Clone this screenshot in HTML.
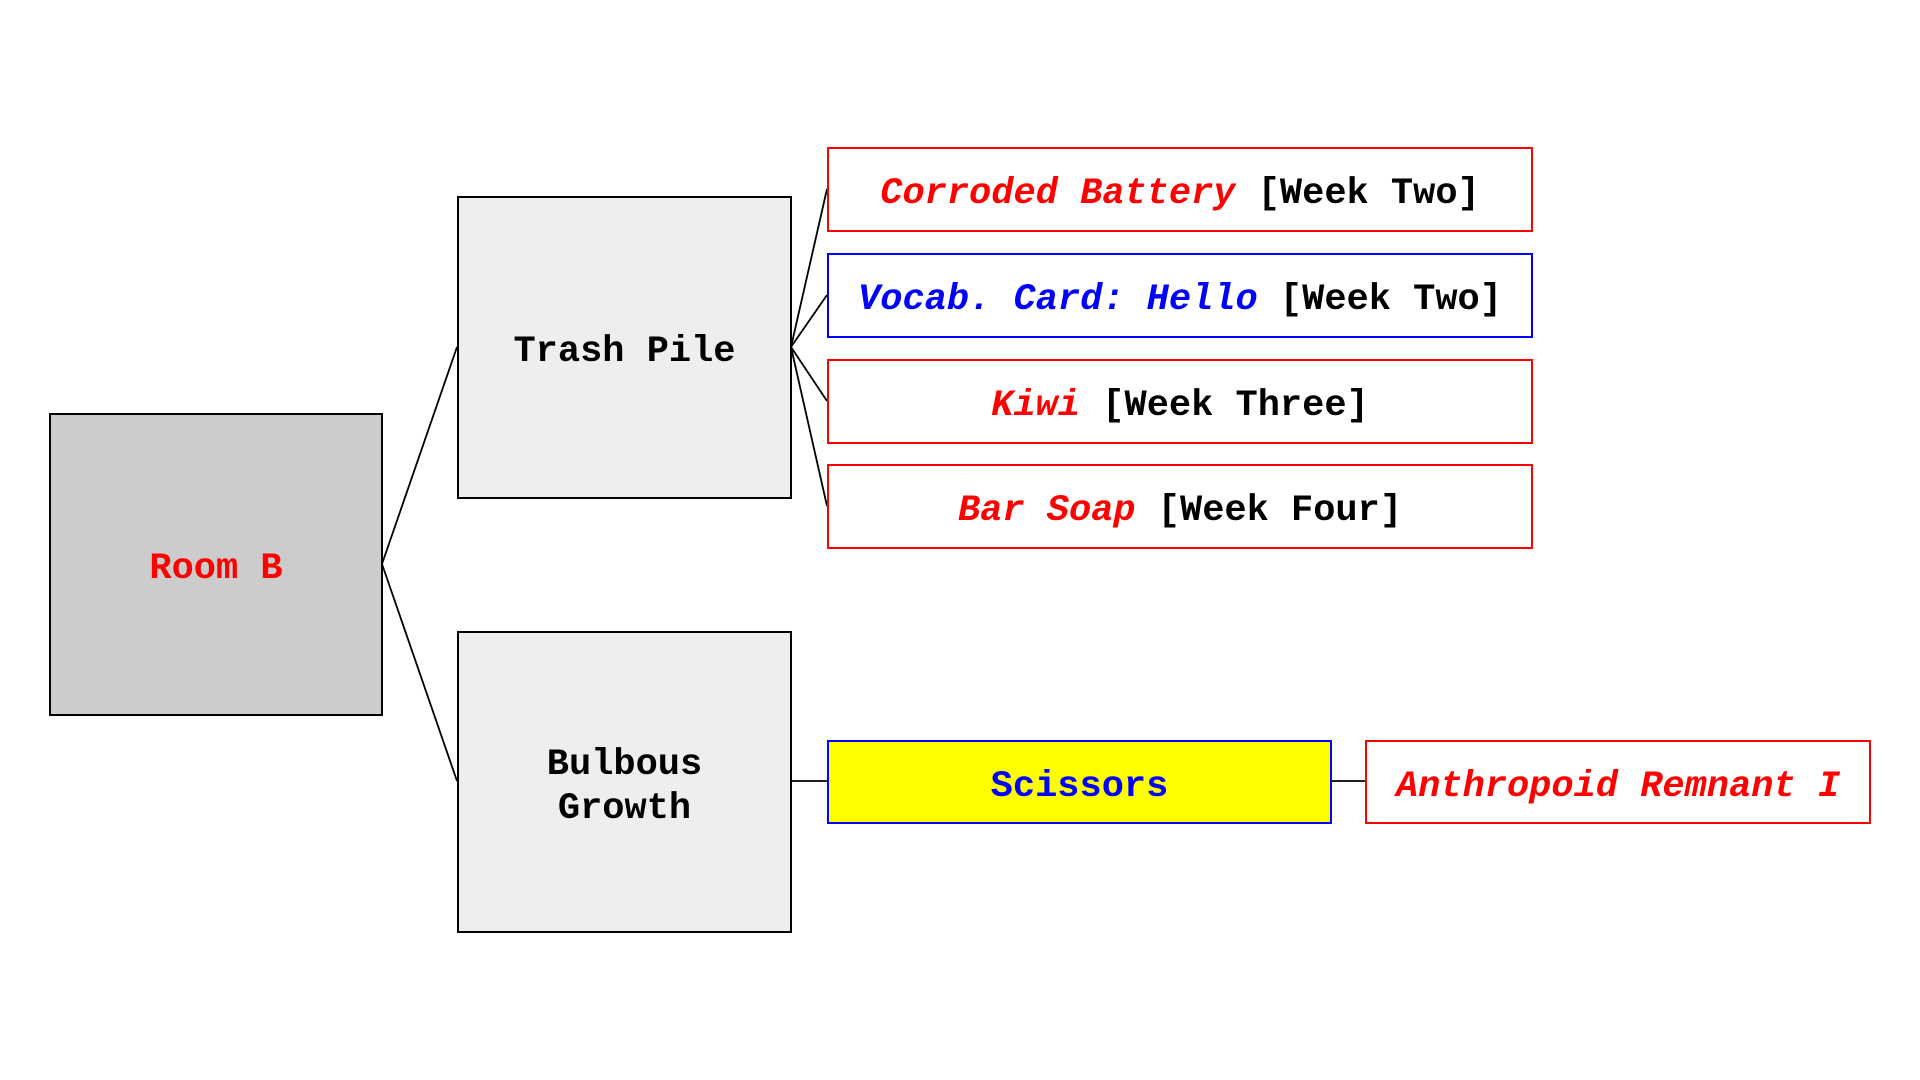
<!DOCTYPE html>
<html><head><style>
body{margin:0;width:1920px;height:1080px;background:#fff;position:relative;overflow:hidden;font-family:"Liberation Mono",monospace;font-weight:bold;}
.b{position:absolute;box-sizing:border-box;display:flex;align-items:center;justify-content:center;text-align:center;font-size:37px;line-height:44px;white-space:pre;padding-top:9px;}
.r{color:#f00;font-style:italic}
.bl{color:#00f;font-style:italic}
.k{color:#000}
svg{position:absolute;left:0;top:0}
</style></head><body>
<svg width="1920" height="1080">
<g stroke="#000" stroke-width="1.8" fill="none">
<line x1="382" y1="564" x2="457" y2="347"/>
<line x1="382" y1="564" x2="457" y2="781"/>
<line x1="791" y1="347" x2="827" y2="189"/>
<line x1="791" y1="347" x2="827" y2="295"/>
<line x1="791" y1="347" x2="827" y2="401"/>
<line x1="791" y1="347" x2="827" y2="506"/>
<line x1="791" y1="781" x2="827" y2="781"/>
<line x1="1331" y1="781" x2="1365" y2="781"/>
</g></svg>
<div class="b" style="left:49px;top:413px;width:334px;height:303px;background:#ccc;border:2px solid #000;color:#f00">Room B</div>
<div class="b" style="left:457px;top:196px;width:335px;height:303px;background:#eee;border:2px solid #000">Trash Pile</div>
<div class="b" style="left:457px;top:631px;width:335px;height:302px;background:#eee;border:2px solid #000">Bulbous
Growth</div>
<div class="b" style="left:827px;top:147px;width:706px;height:85px;border:2px solid #f00"><span class="r">Corroded Battery</span> [Week Two]</div>
<div class="b" style="left:827px;top:253px;width:706px;height:85px;border:2px solid #00f"><span class="bl">Vocab. Card: Hello</span> [Week Two]</div>
<div class="b" style="left:827px;top:359px;width:706px;height:85px;border:2px solid #f00"><span class="r">Kiwi</span> [Week Three]</div>
<div class="b" style="left:827px;top:464px;width:706px;height:85px;border:2px solid #f00"><span class="r">Bar Soap</span> [Week Four]</div>
<div class="b" style="left:827px;top:740px;width:505px;height:84px;background:#ff0;border:2px solid #00f;color:#00f">Scissors</div>
<div class="b" style="left:1365px;top:740px;width:506px;height:84px;border:2px solid #f00"><span class="r">Anthropoid Remnant I</span></div>
</body></html>
